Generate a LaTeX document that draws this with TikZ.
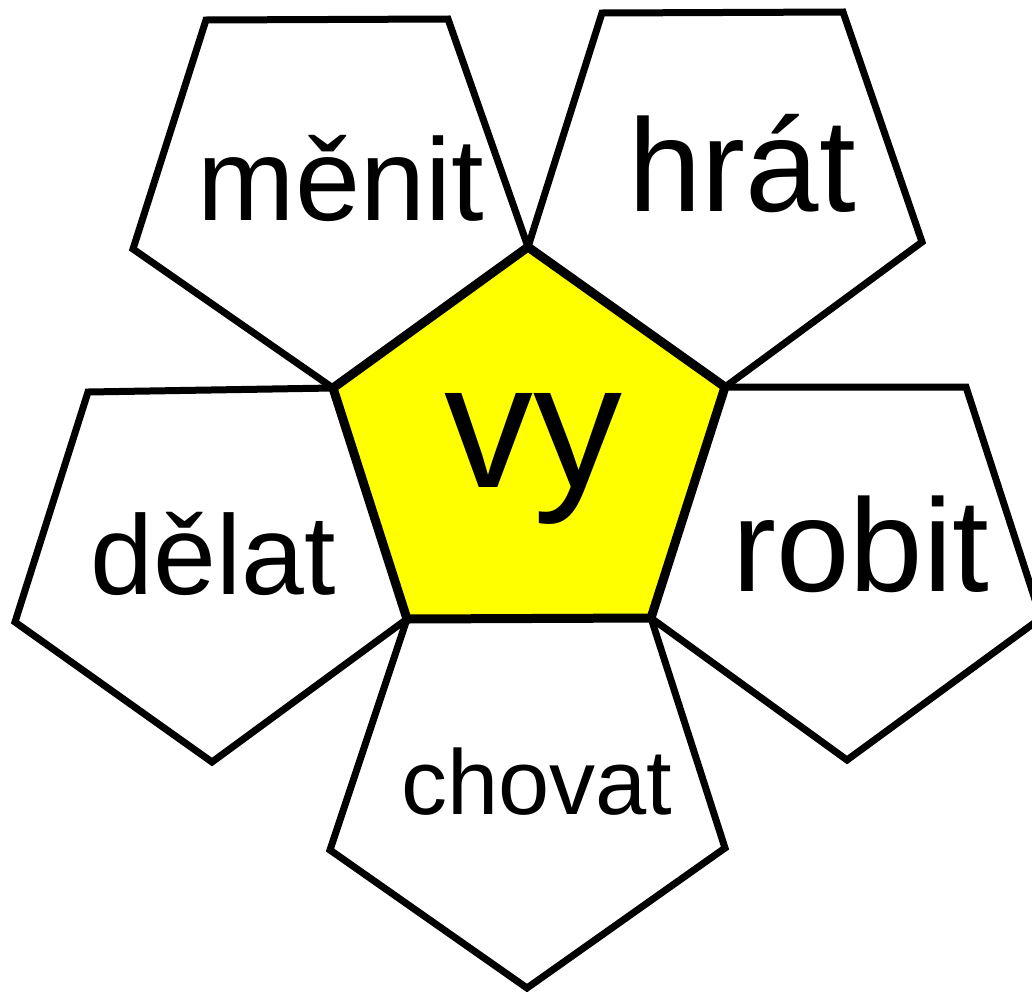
\documentclass[tikz,border=0pt]{standalone}
\usepackage{fontspec}
\setmainfont{Liberation Sans}
\definecolor{coreyellow}{RGB}{255,255,0}
\begin{document}
\begin{tikzpicture}[x=1pt,y=-1pt,
  petal/.style={draw=black,fill=white,line width=7pt,line join=miter},
  core/.style={draw=black,fill=coreyellow,line width=9pt,line join=miter},
  word/.style={anchor=base,inner sep=0pt,text=black}]
\useasboundingbox (0,0) rectangle (1032,991);
\clip (0,0) rectangle (1032,991);
% central pentagon corners
\coordinate (cT) at (528,247);
\coordinate (cR) at (725,387);
\coordinate (cBR) at (651,618);
\coordinate (cBL) at (407,619);
\coordinate (cL) at (333,388);
% petals
\draw[petal] (206,20) -- (448,19) -- (cT) -- (cL) -- (133,249) -- cycle;
\draw[petal] (602,13) -- (843,12) -- (922,242) -- (cR) -- (cT) -- cycle;
\draw[petal] (cR) -- (966,387) -- (1041,618) -- (847,760) -- (cBR) -- cycle;
\draw[petal] (cBL) -- (cBR) -- (725,848) -- (527,988) -- (330,850) -- cycle;
\draw[petal] (88,392) -- (cL) -- (cBL) -- (212,762) -- (15,622) -- cycle;
% center
\draw[core] (cT) -- (cR) -- (cBR) -- (cBL) -- (cL) -- cycle;
% words
\node[word,font=\fontsize{178}{178}\selectfont] (vy) at (533,487) {vy};
\node[word,font=\fontsize{117}{117}\selectfont] (menit) at (341,220) {měnit};
\node[word,font=\fontsize{132}{132}\selectfont] (hrat) at (742,211) {hrát};
\node[word,font=\fontsize{113}{113}\selectfont] (delat) at (213,594) {dělat};
\node[word,font=\fontsize{132}{132}\selectfont] (robit) at (861,591) {robit};
\node[word,font=\fontsize{92}{92}\selectfont] (chovat) at (537,814) {chovat};
\end{tikzpicture}
\end{document}
